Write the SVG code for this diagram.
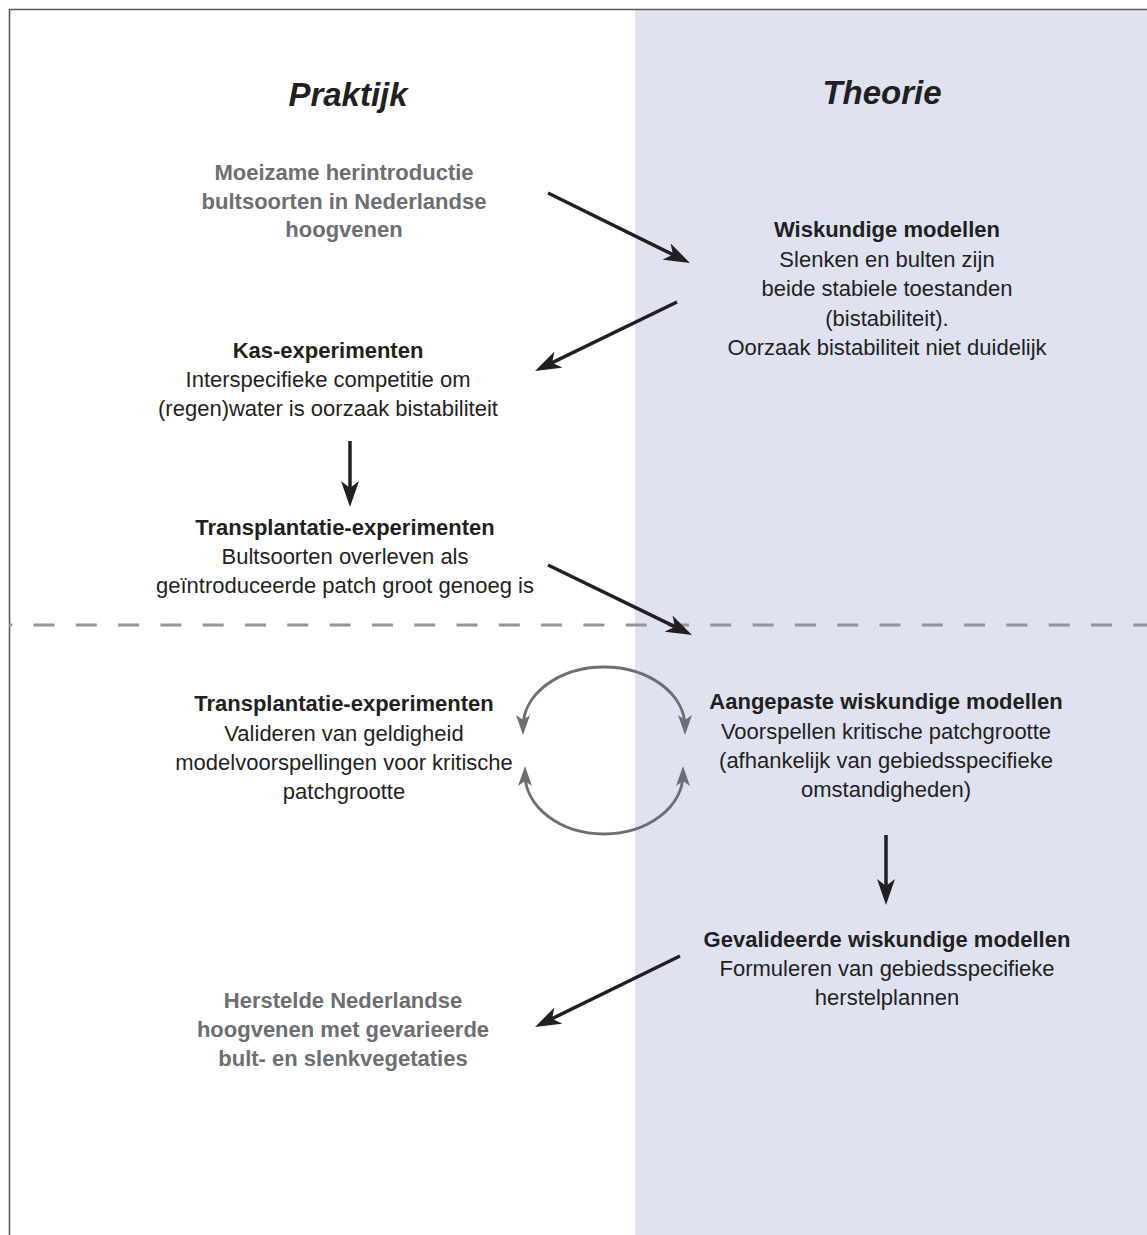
<svg xmlns="http://www.w3.org/2000/svg" width="1147" height="1235" viewBox="0 0 1147 1235">
<style>
text{font-family:"Liberation Sans",Arial,sans-serif;font-size:22px;text-anchor:middle;fill:#231f20}
.h{font-size:33px;font-weight:bold;font-style:italic}
.b{font-weight:bold}
.g{fill:#6d6e71;font-weight:bold}
.arr{fill:none;stroke:#231f20;stroke-width:3.5}
.cur{fill:none;stroke:#6d6e71;stroke-width:3}
</style>
<defs>
<marker id="ah" markerUnits="userSpaceOnUse" viewBox="0 0 26 18" markerWidth="26" markerHeight="18" refX="16" refY="9" orient="auto">
<path d="M0,0 L26,9 L0,18 L7,9 Z" fill="#231f20"/>
</marker>
<marker id="ahg" markerUnits="userSpaceOnUse" viewBox="0 0 20 14" markerWidth="20" markerHeight="14" refX="12" refY="7" orient="auto-start-reverse">
<path d="M0,0 L20,7 L0,14 L5,7 Z" fill="#6d6e71"/>
</marker>
</defs>
<rect x="0" y="0" width="1147" height="1235" fill="#ffffff"/>
<rect id="panel" x="635" y="9.5" width="512" height="1226" fill="#dfe2f1"/>
<path d="M9.5,1235 V9.5 H1147" fill="none" stroke="#58595b" stroke-width="1.6"/>
<line x1="9" y1="625" x2="1147" y2="625" stroke="#939598" stroke-width="3" stroke-dasharray="21 21.3" stroke-dashoffset="17.8"/>
<text class="h" x="348" y="106">Praktijk</text>
<text class="h" x="882" y="104">Theorie</text>
<g id="n1">
<text class="g" x="344" y="180">Moeizame herintroductie</text>
<text class="g" x="344" y="208.5">bultsoorten in Nederlandse</text>
<text class="g" x="344" y="237">hoogvenen</text>
</g>
<g id="n2">
<text class="b" x="887" y="237">Wiskundige modellen</text>
<text x="887" y="266.5">Slenken en bulten zijn</text>
<text x="887" y="296">beide stabiele toestanden</text>
<text x="887" y="325.5">(bistabiliteit).</text>
<text x="887" y="355">Oorzaak bistabiliteit niet duidelijk</text>
</g>
<g id="n3">
<text class="b" x="328" y="358">Kas-experimenten</text>
<text x="328" y="387">Interspecifieke competitie om</text>
<text x="328" y="416">(regen)water is oorzaak bistabiliteit</text>
</g>
<g id="n4">
<text class="b" x="345" y="535">Transplantatie-experimenten</text>
<text x="345" y="564">Bultsoorten overleven als</text>
<text x="345" y="593">geïntroduceerde patch groot genoeg is</text>
</g>
<g id="n5">
<text class="b" x="344" y="711">Transplantatie-experimenten</text>
<text x="344" y="740.5">Valideren van geldigheid</text>
<text x="344" y="770">modelvoorspellingen voor kritische</text>
<text x="344" y="799">patchgrootte</text>
</g>
<g id="n6">
<text class="b" x="886" y="709">Aangepaste wiskundige modellen</text>
<text x="886" y="738.5">Voorspellen kritische patchgrootte</text>
<text x="886" y="768">(afhankelijk van gebiedsspecifieke</text>
<text x="886" y="797">omstandigheden)</text>
</g>
<g id="n7">
<text class="b" x="887" y="947">Gevalideerde wiskundige modellen</text>
<text x="887" y="976">Formuleren van gebiedsspecifieke</text>
<text x="887" y="1005">herstelplannen</text>
</g>
<g id="n8">
<text class="g" x="343" y="1008">Herstelde Nederlandse</text>
<text class="g" x="343" y="1037">hoogvenen met gevarieerde</text>
<text class="g" x="343" y="1066">bult- en slenkvegetaties</text>
</g>
<g id="connectors">
<path class="arr" d="M548,193 L681,258.6" marker-end="url(#ah)"/>
<path class="arr" d="M677,302 L544,366.6" marker-end="url(#ah)"/>
<path class="arr" d="M350,441 L350,497" marker-end="url(#ah)"/>
<path class="arr" d="M548,565 L683,630.6" marker-end="url(#ah)"/>
<path class="cur" d="M523,727 A81 60 0 0 1 685,727" marker-start="url(#ahg)" marker-end="url(#ahg)"/>
<path class="cur" d="M525,774 A79 60 0 0 0 683,774" marker-start="url(#ahg)" marker-end="url(#ahg)"/>
<path class="arr" d="M886,835 L886,895" marker-end="url(#ah)"/>
<path class="arr" d="M680,956 L544,1022.6" marker-end="url(#ah)"/>
</g>
</svg>
